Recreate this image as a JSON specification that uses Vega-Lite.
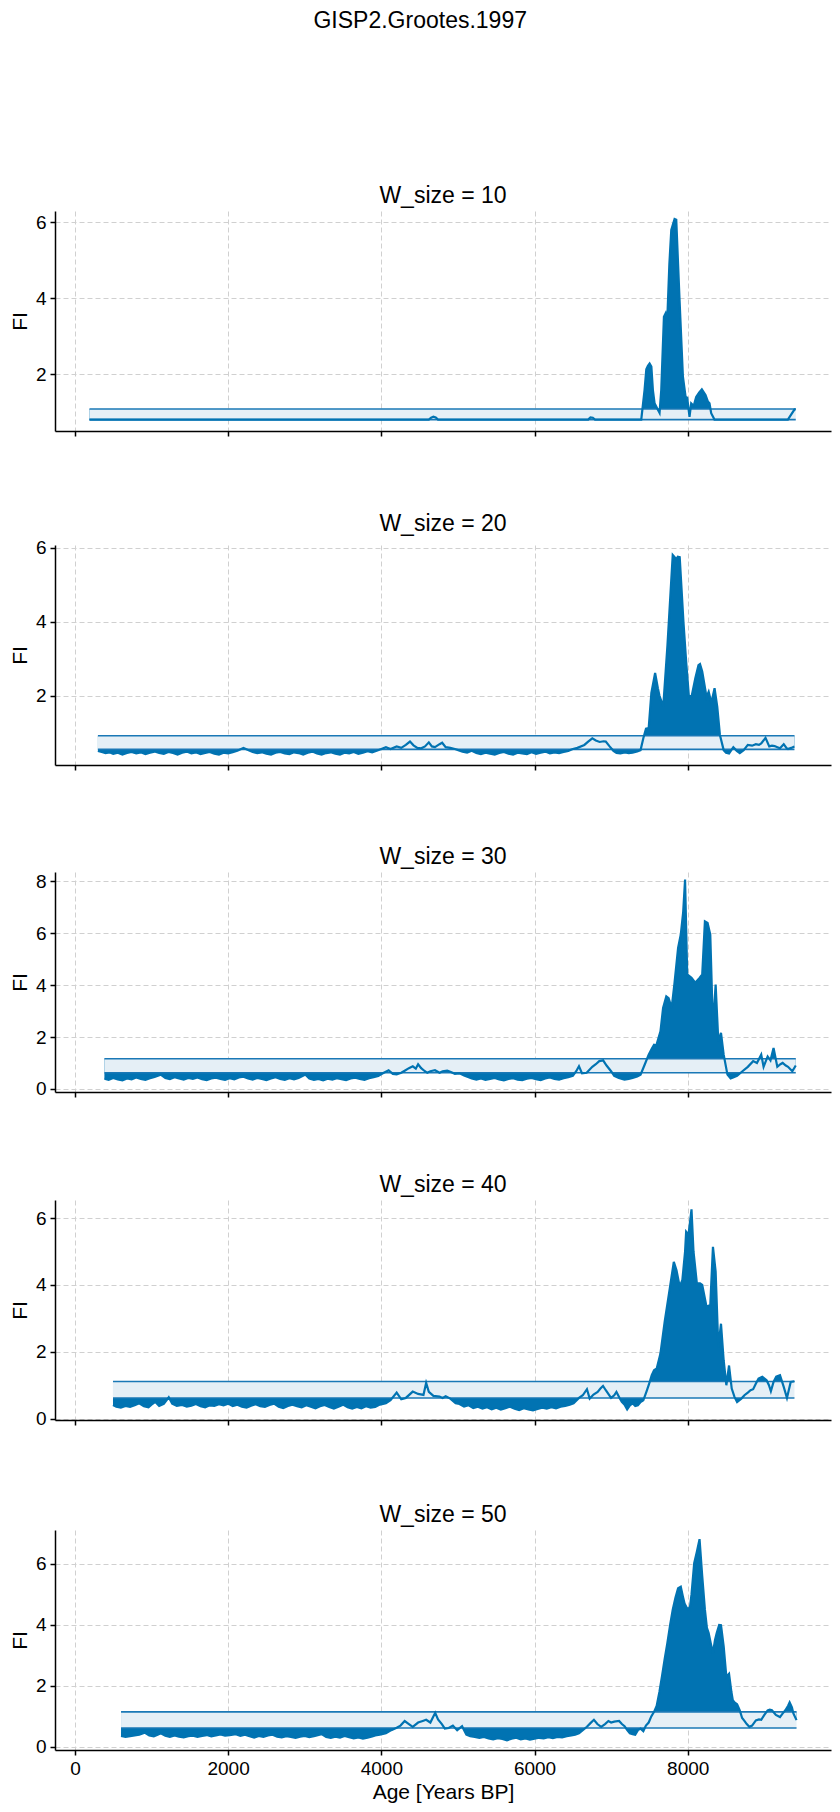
{
  "$schema": "https://vega.github.io/schema/vega-lite/v6.json",
  "padding": {"left": 9, "top": 10, "right": 5, "bottom": 5},
  "background": "white",
  "title": {"text": "GISP2.Grootes.1997", "fontSize": 23, "font": "Liberation Sans", "fontWeight": "normal", "color": "black", "anchor": "middle", "offset": 152},
  "config": {
    "view": {"stroke": null},
    "font": "Liberation Sans",
    "axis": {"domainColor": "black", "domainWidth": 1.5, "tickColor": "black", "tickWidth": 1.5, "tickSize": 5, "labelFont": "Liberation Sans", "labelFontSize": 19, "labelColor": "black", "titleFont": "Liberation Sans", "titleFontSize": 21, "titleFontWeight": "normal", "titleColor": "black", "gridColor": "#d0d0d0", "gridDash": [5, 3], "gridWidth": 1, "labelPadding": 4},
    "axisX": {"format": "d", "titlePadding": 3},
    "axisY": {"titlePadding": 5},
    "title": {"fontSize": 23, "font": "Liberation Sans", "fontWeight": "normal", "color": "black", "anchor": "middle", "offset": 3}
  },
  "resolve": {"scale": {"x": "independent", "y": "independent"}},
  "spacing": 75,
  "datasets": {
    "w10": [
      {"age": 190, "fi": 0.80}, {"age": 1000, "fi": 0.80}, {"age": 2000, "fi": 0.80}, {"age": 3000, "fi": 0.80}, {"age": 4000, "fi": 0.80}, {"age": 4620, "fi": 0.80}, {"age": 4650, "fi": 0.85}, {"age": 4680, "fi": 0.88}, {"age": 4710, "fi": 0.86}, {"age": 4740, "fi": 0.80}, {"age": 5500, "fi": 0.80}, {"age": 6700, "fi": 0.80}, {"age": 6730, "fi": 0.86}, {"age": 6760, "fi": 0.85}, {"age": 6790, "fi": 0.80}, {"age": 7393, "fi": 0.80}, {"age": 7436, "fi": 1.58}, {"age": 7459, "fi": 2.13}, {"age": 7480, "fi": 2.22}, {"age": 7502, "fi": 2.28}, {"age": 7525, "fi": 2.2}, {"age": 7545, "fi": 1.58}, {"age": 7567, "fi": 1.23}, {"age": 7600, "fi": 1.10}, {"age": 7632, "fi": 0.98}, {"age": 7654, "fi": 1.58}, {"age": 7689, "fi": 3.51}, {"age": 7711, "fi": 3.6}, {"age": 7732, "fi": 3.4}, {"age": 7760, "fi": 4.9}, {"age": 7785, "fi": 5.8}, {"age": 7828, "fi": 6.09}, {"age": 7850, "fi": 6.07}, {"age": 7893, "fi": 3.95}, {"age": 7937, "fi": 1.93}, {"age": 7972, "fi": 1.40}, {"age": 7993, "fi": 1.38}, {"age": 8023, "fi": 0.87}, {"age": 8045, "fi": 1.23}, {"age": 8060, "fi": 1.20}, {"age": 8080, "fi": 1.18}, {"age": 8110, "fi": 1.40}, {"age": 8150, "fi": 1.52}, {"age": 8184, "fi": 1.60}, {"age": 8232, "fi": 1.45}, {"age": 8262, "fi": 1.28}, {"age": 8284, "fi": 1.23}, {"age": 8306, "fi": 0.97}, {"age": 8349, "fi": 0.80}, {"age": 9000, "fi": 0.80}, {"age": 9307, "fi": 0.80}, {"age": 9394, "fi": 1.07}, {"age": 9410, "fi": 1.07}
    ],
    "w20": [
      {"age": 300, "fi": 0.50}, {"age": 350, "fi": 0.47}, {"age": 400, "fi": 0.44}, {"age": 450, "fi": 0.46}, {"age": 500, "fi": 0.42}, {"age": 560, "fi": 0.45}, {"age": 620, "fi": 0.40}, {"age": 680, "fi": 0.44}, {"age": 740, "fi": 0.47}, {"age": 800, "fi": 0.43}, {"age": 860, "fi": 0.46}, {"age": 920, "fi": 0.41}, {"age": 980, "fi": 0.45}, {"age": 1040, "fi": 0.48}, {"age": 1100, "fi": 0.44}, {"age": 1160, "fi": 0.42}, {"age": 1220, "fi": 0.47}, {"age": 1280, "fi": 0.44}, {"age": 1340, "fi": 0.40}, {"age": 1400, "fi": 0.45}, {"age": 1460, "fi": 0.48}, {"age": 1520, "fi": 0.43}, {"age": 1580, "fi": 0.46}, {"age": 1640, "fi": 0.41}, {"age": 1700, "fi": 0.44}, {"age": 1760, "fi": 0.47}, {"age": 1820, "fi": 0.42}, {"age": 1880, "fi": 0.40}, {"age": 1940, "fi": 0.45}, {"age": 2000, "fi": 0.43}, {"age": 2060, "fi": 0.46}, {"age": 2120, "fi": 0.50}, {"age": 2200, "fi": 0.58}, {"age": 2260, "fi": 0.52}, {"age": 2320, "fi": 0.47}, {"age": 2380, "fi": 0.44}, {"age": 2440, "fi": 0.46}, {"age": 2500, "fi": 0.42}, {"age": 2560, "fi": 0.40}, {"age": 2620, "fi": 0.45}, {"age": 2680, "fi": 0.47}, {"age": 2740, "fi": 0.43}, {"age": 2800, "fi": 0.41}, {"age": 2860, "fi": 0.46}, {"age": 2920, "fi": 0.44}, {"age": 2980, "fi": 0.40}, {"age": 3040, "fi": 0.45}, {"age": 3100, "fi": 0.48}, {"age": 3160, "fi": 0.43}, {"age": 3220, "fi": 0.40}, {"age": 3280, "fi": 0.44}, {"age": 3340, "fi": 0.46}, {"age": 3400, "fi": 0.42}, {"age": 3460, "fi": 0.40}, {"age": 3520, "fi": 0.45}, {"age": 3580, "fi": 0.43}, {"age": 3640, "fi": 0.47}, {"age": 3700, "fi": 0.42}, {"age": 3760, "fi": 0.45}, {"age": 3820, "fi": 0.49}, {"age": 3880, "fi": 0.46}, {"age": 3940, "fi": 0.50}, {"age": 4000, "fi": 0.55}, {"age": 4060, "fi": 0.60}, {"age": 4120, "fi": 0.55}, {"age": 4200, "fi": 0.62}, {"age": 4260, "fi": 0.58}, {"age": 4320, "fi": 0.66}, {"age": 4374, "fi": 0.75}, {"age": 4420, "fi": 0.65}, {"age": 4470, "fi": 0.58}, {"age": 4520, "fi": 0.57}, {"age": 4570, "fi": 0.62}, {"age": 4620, "fi": 0.73}, {"age": 4660, "fi": 0.62}, {"age": 4700, "fi": 0.60}, {"age": 4760, "fi": 0.68}, {"age": 4794, "fi": 0.72}, {"age": 4840, "fi": 0.60}, {"age": 4900, "fi": 0.58}, {"age": 4960, "fi": 0.55}, {"age": 5004, "fi": 0.52}, {"age": 5060, "fi": 0.48}, {"age": 5120, "fi": 0.45}, {"age": 5180, "fi": 0.50}, {"age": 5240, "fi": 0.44}, {"age": 5300, "fi": 0.41}, {"age": 5360, "fi": 0.45}, {"age": 5420, "fi": 0.42}, {"age": 5480, "fi": 0.40}, {"age": 5540, "fi": 0.44}, {"age": 5600, "fi": 0.47}, {"age": 5660, "fi": 0.42}, {"age": 5720, "fi": 0.40}, {"age": 5780, "fi": 0.45}, {"age": 5840, "fi": 0.43}, {"age": 5900, "fi": 0.41}, {"age": 5960, "fi": 0.46}, {"age": 6020, "fi": 0.42}, {"age": 6080, "fi": 0.45}, {"age": 6140, "fi": 0.48}, {"age": 6200, "fi": 0.43}, {"age": 6260, "fi": 0.46}, {"age": 6320, "fi": 0.44}, {"age": 6380, "fi": 0.47}, {"age": 6440, "fi": 0.50}, {"age": 6500, "fi": 0.55}, {"age": 6560, "fi": 0.58}, {"age": 6650, "fi": 0.66}, {"age": 6700, "fi": 0.75}, {"age": 6754, "fi": 0.84}, {"age": 6800, "fi": 0.78}, {"age": 6850, "fi": 0.74}, {"age": 6900, "fi": 0.76}, {"age": 6930, "fi": 0.75}, {"age": 6980, "fi": 0.62}, {"age": 7030, "fi": 0.50}, {"age": 7070, "fi": 0.44}, {"age": 7120, "fi": 0.43}, {"age": 7180, "fi": 0.46}, {"age": 7230, "fi": 0.44}, {"age": 7280, "fi": 0.45}, {"age": 7340, "fi": 0.48}, {"age": 7384, "fi": 0.52}, {"age": 7420, "fi": 0.84}, {"age": 7455, "fi": 1.10}, {"age": 7490, "fi": 1.12}, {"age": 7525, "fi": 2.07}, {"age": 7574, "fi": 2.61}, {"age": 7610, "fi": 2.2}, {"age": 7630, "fi": 2.0}, {"age": 7680, "fi": 1.70}, {"age": 7735, "fi": 3.36}, {"age": 7770, "fi": 4.6}, {"age": 7804, "fi": 5.81}, {"age": 7830, "fi": 5.75}, {"age": 7853, "fi": 5.70}, {"age": 7870, "fi": 5.76}, {"age": 7895, "fi": 5.75}, {"age": 7944, "fi": 3.99}, {"age": 7980, "fi": 2.9}, {"age": 8014, "fi": 2.0}, {"age": 8049, "fi": 1.96}, {"age": 8098, "fi": 2.46}, {"age": 8140, "fi": 2.82}, {"age": 8160, "fi": 2.85}, {"age": 8189, "fi": 2.65}, {"age": 8245, "fi": 1.96}, {"age": 8273, "fi": 2.1}, {"age": 8308, "fi": 1.8}, {"age": 8350, "fi": 2.2}, {"age": 8385, "fi": 1.7}, {"age": 8420, "fi": 0.93}, {"age": 8469, "fi": 0.52}, {"age": 8500, "fi": 0.45}, {"age": 8539, "fi": 0.43}, {"age": 8595, "fi": 0.60}, {"age": 8640, "fi": 0.50}, {"age": 8679, "fi": 0.44}, {"age": 8730, "fi": 0.52}, {"age": 8784, "fi": 0.66}, {"age": 8840, "fi": 0.64}, {"age": 8889, "fi": 0.68}, {"age": 8930, "fi": 0.66}, {"age": 8959, "fi": 0.70}, {"age": 9015, "fi": 0.85}, {"age": 9064, "fi": 0.62}, {"age": 9100, "fi": 0.64}, {"age": 9134, "fi": 0.63}, {"age": 9170, "fi": 0.60}, {"age": 9204, "fi": 0.57}, {"age": 9253, "fi": 0.68}, {"age": 9290, "fi": 0.57}, {"age": 9309, "fi": 0.55}, {"age": 9350, "fi": 0.58}, {"age": 9393, "fi": 0.62}
    ],
    "w30": [
      {"age": 385, "fi": 0.39}, {"age": 440, "fi": 0.35}, {"age": 500, "fi": 0.42}, {"age": 560, "fi": 0.36}, {"age": 620, "fi": 0.33}, {"age": 680, "fi": 0.40}, {"age": 740, "fi": 0.37}, {"age": 800, "fi": 0.44}, {"age": 860, "fi": 0.38}, {"age": 920, "fi": 0.35}, {"age": 980, "fi": 0.41}, {"age": 1040, "fi": 0.46}, {"age": 1120, "fi": 0.55}, {"age": 1180, "fi": 0.42}, {"age": 1240, "fi": 0.38}, {"age": 1300, "fi": 0.45}, {"age": 1360, "fi": 0.40}, {"age": 1420, "fi": 0.36}, {"age": 1480, "fi": 0.42}, {"age": 1540, "fi": 0.39}, {"age": 1600, "fi": 0.44}, {"age": 1660, "fi": 0.37}, {"age": 1720, "fi": 0.34}, {"age": 1780, "fi": 0.40}, {"age": 1840, "fi": 0.43}, {"age": 1900, "fi": 0.38}, {"age": 1960, "fi": 0.35}, {"age": 2020, "fi": 0.41}, {"age": 2080, "fi": 0.37}, {"age": 2140, "fi": 0.44}, {"age": 2200, "fi": 0.47}, {"age": 2260, "fi": 0.40}, {"age": 2320, "fi": 0.36}, {"age": 2380, "fi": 0.42}, {"age": 2440, "fi": 0.38}, {"age": 2500, "fi": 0.34}, {"age": 2560, "fi": 0.40}, {"age": 2620, "fi": 0.45}, {"age": 2680, "fi": 0.38}, {"age": 2740, "fi": 0.35}, {"age": 2800, "fi": 0.41}, {"age": 2860, "fi": 0.37}, {"age": 2920, "fi": 0.42}, {"age": 3010, "fi": 0.55}, {"age": 3060, "fi": 0.40}, {"age": 3120, "fi": 0.35}, {"age": 3180, "fi": 0.38}, {"age": 3240, "fi": 0.33}, {"age": 3300, "fi": 0.39}, {"age": 3360, "fi": 0.36}, {"age": 3420, "fi": 0.41}, {"age": 3480, "fi": 0.37}, {"age": 3540, "fi": 0.34}, {"age": 3600, "fi": 0.40}, {"age": 3660, "fi": 0.43}, {"age": 3720, "fi": 0.38}, {"age": 3780, "fi": 0.35}, {"age": 3840, "fi": 0.41}, {"age": 3900, "fi": 0.45}, {"age": 3960, "fi": 0.50}, {"age": 4020, "fi": 0.60}, {"age": 4095, "fi": 0.72}, {"age": 4150, "fi": 0.58}, {"age": 4200, "fi": 0.56}, {"age": 4260, "fi": 0.62}, {"age": 4305, "fi": 0.70}, {"age": 4360, "fi": 0.80}, {"age": 4410, "fi": 0.87}, {"age": 4450, "fi": 0.78}, {"age": 4480, "fi": 0.95}, {"age": 4520, "fi": 0.80}, {"age": 4560, "fi": 0.70}, {"age": 4600, "fi": 0.62}, {"age": 4640, "fi": 0.68}, {"age": 4700, "fi": 0.72}, {"age": 4760, "fi": 0.62}, {"age": 4800, "fi": 0.68}, {"age": 4860, "fi": 0.70}, {"age": 4900, "fi": 0.66}, {"age": 4960, "fi": 0.58}, {"age": 5020, "fi": 0.60}, {"age": 5080, "fi": 0.52}, {"age": 5140, "fi": 0.45}, {"age": 5180, "fi": 0.40}, {"age": 5240, "fi": 0.36}, {"age": 5300, "fi": 0.40}, {"age": 5360, "fi": 0.35}, {"age": 5420, "fi": 0.38}, {"age": 5480, "fi": 0.42}, {"age": 5540, "fi": 0.36}, {"age": 5600, "fi": 0.33}, {"age": 5660, "fi": 0.38}, {"age": 5720, "fi": 0.41}, {"age": 5780, "fi": 0.36}, {"age": 5840, "fi": 0.34}, {"age": 5900, "fi": 0.39}, {"age": 5960, "fi": 0.42}, {"age": 6020, "fi": 0.37}, {"age": 6080, "fi": 0.34}, {"age": 6140, "fi": 0.40}, {"age": 6200, "fi": 0.44}, {"age": 6260, "fi": 0.38}, {"age": 6320, "fi": 0.36}, {"age": 6380, "fi": 0.41}, {"age": 6440, "fi": 0.45}, {"age": 6500, "fi": 0.50}, {"age": 6544, "fi": 0.68}, {"age": 6580, "fi": 0.87}, {"age": 6620, "fi": 0.60}, {"age": 6680, "fi": 0.62}, {"age": 6754, "fi": 0.85}, {"age": 6800, "fi": 0.95}, {"age": 6845, "fi": 1.07}, {"age": 6895, "fi": 1.10}, {"age": 6940, "fi": 0.90}, {"age": 6999, "fi": 0.68}, {"age": 7040, "fi": 0.50}, {"age": 7100, "fi": 0.42}, {"age": 7174, "fi": 0.36}, {"age": 7230, "fi": 0.38}, {"age": 7280, "fi": 0.42}, {"age": 7340, "fi": 0.48}, {"age": 7384, "fi": 0.55}, {"age": 7440, "fi": 0.95}, {"age": 7490, "fi": 1.32}, {"age": 7530, "fi": 1.55}, {"age": 7560, "fi": 1.70}, {"age": 7590, "fi": 1.68}, {"age": 7644, "fi": 2.22}, {"age": 7678, "fi": 3.12}, {"age": 7720, "fi": 3.57}, {"age": 7750, "fi": 3.50}, {"age": 7790, "fi": 3.12}, {"age": 7825, "fi": 4.02}, {"age": 7874, "fi": 5.43}, {"age": 7909, "fi": 5.95}, {"age": 7940, "fi": 6.8}, {"age": 7965, "fi": 8.07}, {"age": 7993, "fi": 4.41}, {"age": 8049, "fi": 4.28}, {"age": 8098, "fi": 4.09}, {"age": 8154, "fi": 4.28}, {"age": 8189, "fi": 4.41}, {"age": 8224, "fi": 6.46}, {"age": 8259, "fi": 6.4}, {"age": 8294, "fi": 5.95}, {"age": 8329, "fi": 2.35}, {"age": 8364, "fi": 4.02}, {"age": 8399, "fi": 1.84}, {"age": 8434, "fi": 2.16}, {"age": 8469, "fi": 1.32}, {"age": 8518, "fi": 0.55}, {"age": 8560, "fi": 0.40}, {"age": 8600, "fi": 0.45}, {"age": 8644, "fi": 0.50}, {"age": 8714, "fi": 0.68}, {"age": 8784, "fi": 0.85}, {"age": 8854, "fi": 1.07}, {"age": 8903, "fi": 1.0}, {"age": 8959, "fi": 1.32}, {"age": 8990, "fi": 0.85}, {"age": 9043, "fi": 1.25}, {"age": 9080, "fi": 1.10}, {"age": 9120, "fi": 1.58}, {"age": 9169, "fi": 0.85}, {"age": 9210, "fi": 0.95}, {"age": 9239, "fi": 1.0}, {"age": 9280, "fi": 0.90}, {"age": 9309, "fi": 0.85}, {"age": 9365, "fi": 0.68}, {"age": 9410, "fi": 0.90}
    ],
    "w40": [
      {"age": 497, "fi": 0.41}, {"age": 540, "fi": 0.36}, {"age": 600, "fi": 0.33}, {"age": 660, "fi": 0.38}, {"age": 720, "fi": 0.35}, {"age": 780, "fi": 0.40}, {"age": 840, "fi": 0.46}, {"age": 900, "fi": 0.37}, {"age": 960, "fi": 0.34}, {"age": 1000, "fi": 0.42}, {"age": 1050, "fi": 0.50}, {"age": 1100, "fi": 0.38}, {"age": 1160, "fi": 0.44}, {"age": 1225, "fi": 0.64}, {"age": 1270, "fi": 0.45}, {"age": 1330, "fi": 0.38}, {"age": 1400, "fi": 0.41}, {"age": 1460, "fi": 0.36}, {"age": 1520, "fi": 0.39}, {"age": 1580, "fi": 0.44}, {"age": 1640, "fi": 0.37}, {"age": 1700, "fi": 0.34}, {"age": 1760, "fi": 0.40}, {"age": 1820, "fi": 0.38}, {"age": 1880, "fi": 0.43}, {"age": 1940, "fi": 0.40}, {"age": 2000, "fi": 0.45}, {"age": 2060, "fi": 0.38}, {"age": 2120, "fi": 0.42}, {"age": 2180, "fi": 0.36}, {"age": 2240, "fi": 0.33}, {"age": 2300, "fi": 0.39}, {"age": 2360, "fi": 0.43}, {"age": 2420, "fi": 0.37}, {"age": 2480, "fi": 0.35}, {"age": 2540, "fi": 0.41}, {"age": 2600, "fi": 0.45}, {"age": 2660, "fi": 0.36}, {"age": 2720, "fi": 0.32}, {"age": 2780, "fi": 0.38}, {"age": 2840, "fi": 0.42}, {"age": 2900, "fi": 0.37}, {"age": 2960, "fi": 0.34}, {"age": 3020, "fi": 0.40}, {"age": 3080, "fi": 0.36}, {"age": 3140, "fi": 0.31}, {"age": 3200, "fi": 0.37}, {"age": 3260, "fi": 0.41}, {"age": 3320, "fi": 0.35}, {"age": 3380, "fi": 0.30}, {"age": 3440, "fi": 0.36}, {"age": 3500, "fi": 0.42}, {"age": 3560, "fi": 0.34}, {"age": 3620, "fi": 0.30}, {"age": 3680, "fi": 0.35}, {"age": 3740, "fi": 0.31}, {"age": 3800, "fi": 0.37}, {"age": 3860, "fi": 0.33}, {"age": 3920, "fi": 0.35}, {"age": 3980, "fi": 0.42}, {"age": 4060, "fi": 0.46}, {"age": 4120, "fi": 0.55}, {"age": 4200, "fi": 0.78}, {"age": 4260, "fi": 0.58}, {"age": 4320, "fi": 0.62}, {"age": 4410, "fi": 0.81}, {"age": 4480, "fi": 0.74}, {"age": 4550, "fi": 0.71}, {"age": 4585, "fi": 1.07}, {"age": 4620, "fi": 0.80}, {"age": 4680, "fi": 0.68}, {"age": 4760, "fi": 0.66}, {"age": 4800, "fi": 0.62}, {"age": 4840, "fi": 0.67}, {"age": 4900, "fi": 0.60}, {"age": 4970, "fi": 0.46}, {"age": 5020, "fi": 0.44}, {"age": 5080, "fi": 0.36}, {"age": 5140, "fi": 0.40}, {"age": 5200, "fi": 0.32}, {"age": 5260, "fi": 0.36}, {"age": 5320, "fi": 0.30}, {"age": 5380, "fi": 0.34}, {"age": 5440, "fi": 0.28}, {"age": 5500, "fi": 0.33}, {"age": 5560, "fi": 0.27}, {"age": 5620, "fi": 0.31}, {"age": 5680, "fi": 0.36}, {"age": 5740, "fi": 0.30}, {"age": 5800, "fi": 0.26}, {"age": 5860, "fi": 0.31}, {"age": 5920, "fi": 0.28}, {"age": 5980, "fi": 0.25}, {"age": 6040, "fi": 0.29}, {"age": 6100, "fi": 0.33}, {"age": 6160, "fi": 0.30}, {"age": 6220, "fi": 0.34}, {"age": 6280, "fi": 0.31}, {"age": 6340, "fi": 0.36}, {"age": 6400, "fi": 0.38}, {"age": 6460, "fi": 0.42}, {"age": 6510, "fi": 0.46}, {"age": 6580, "fi": 0.62}, {"age": 6630, "fi": 0.70}, {"age": 6684, "fi": 0.88}, {"age": 6720, "fi": 0.60}, {"age": 6770, "fi": 0.72}, {"age": 6824, "fi": 0.80}, {"age": 6860, "fi": 0.90}, {"age": 6894, "fi": 0.98}, {"age": 6930, "fi": 0.85}, {"age": 6999, "fi": 0.62}, {"age": 7040, "fi": 0.70}, {"age": 7069, "fi": 0.80}, {"age": 7110, "fi": 0.62}, {"age": 7139, "fi": 0.50}, {"age": 7175, "fi": 0.42}, {"age": 7209, "fi": 0.28}, {"age": 7245, "fi": 0.40}, {"age": 7280, "fi": 0.46}, {"age": 7315, "fi": 0.38}, {"age": 7349, "fi": 0.40}, {"age": 7384, "fi": 0.50}, {"age": 7420, "fi": 0.55}, {"age": 7460, "fi": 0.80}, {"age": 7490, "fi": 1.0}, {"age": 7530, "fi": 1.30}, {"age": 7560, "fi": 1.45}, {"age": 7595, "fi": 1.50}, {"age": 7643, "fi": 1.94}, {"age": 7699, "fi": 2.9}, {"age": 7769, "fi": 3.95}, {"age": 7818, "fi": 4.69}, {"age": 7853, "fi": 4.44}, {"age": 7895, "fi": 3.95}, {"age": 7930, "fi": 4.15}, {"age": 7965, "fi": 5.0}, {"age": 7979, "fi": 5.59}, {"age": 8010, "fi": 5.5}, {"age": 8049, "fi": 6.26}, {"age": 8075, "fi": 5.0}, {"age": 8119, "fi": 4.05}, {"age": 8160, "fi": 4.05}, {"age": 8189, "fi": 4.0}, {"age": 8245, "fi": 3.35}, {"age": 8294, "fi": 3.40}, {"age": 8329, "fi": 5.14}, {"age": 8364, "fi": 4.4}, {"age": 8399, "fi": 2.14}, {"age": 8434, "fi": 2.84}, {"age": 8469, "fi": 1.74}, {"age": 8504, "fi": 1.0}, {"age": 8539, "fi": 1.59}, {"age": 8574, "fi": 0.90}, {"age": 8610, "fi": 0.65}, {"age": 8644, "fi": 0.50}, {"age": 8700, "fi": 0.60}, {"age": 8740, "fi": 0.70}, {"age": 8784, "fi": 0.78}, {"age": 8820, "fi": 0.85}, {"age": 8854, "fi": 0.88}, {"age": 8890, "fi": 1.05}, {"age": 8924, "fi": 1.20}, {"age": 8973, "fi": 1.25}, {"age": 9029, "fi": 1.15}, {"age": 9060, "fi": 1.0}, {"age": 9085, "fi": 0.82}, {"age": 9120, "fi": 1.10}, {"age": 9155, "fi": 1.26}, {"age": 9204, "fi": 1.30}, {"age": 9253, "fi": 0.95}, {"age": 9295, "fi": 0.62}, {"age": 9344, "fi": 1.10}, {"age": 9393, "fi": 1.12}
    ],
    "w50": [
      {"age": 602, "fi": 0.36}, {"age": 660, "fi": 0.33}, {"age": 720, "fi": 0.35}, {"age": 780, "fi": 0.38}, {"age": 840, "fi": 0.40}, {"age": 910, "fi": 0.47}, {"age": 970, "fi": 0.38}, {"age": 1030, "fi": 0.35}, {"age": 1080, "fi": 0.40}, {"age": 1120, "fi": 0.45}, {"age": 1180, "fi": 0.37}, {"age": 1240, "fi": 0.33}, {"age": 1300, "fi": 0.38}, {"age": 1360, "fi": 0.34}, {"age": 1420, "fi": 0.31}, {"age": 1480, "fi": 0.35}, {"age": 1540, "fi": 0.37}, {"age": 1600, "fi": 0.33}, {"age": 1660, "fi": 0.36}, {"age": 1720, "fi": 0.39}, {"age": 1780, "fi": 0.35}, {"age": 1840, "fi": 0.38}, {"age": 1900, "fi": 0.41}, {"age": 1960, "fi": 0.37}, {"age": 2020, "fi": 0.39}, {"age": 2100, "fi": 0.42}, {"age": 2160, "fi": 0.36}, {"age": 2220, "fi": 0.40}, {"age": 2280, "fi": 0.35}, {"age": 2340, "fi": 0.31}, {"age": 2400, "fi": 0.36}, {"age": 2460, "fi": 0.33}, {"age": 2520, "fi": 0.38}, {"age": 2580, "fi": 0.40}, {"age": 2640, "fi": 0.34}, {"age": 2700, "fi": 0.31}, {"age": 2760, "fi": 0.35}, {"age": 2820, "fi": 0.33}, {"age": 2880, "fi": 0.30}, {"age": 2940, "fi": 0.34}, {"age": 3000, "fi": 0.36}, {"age": 3060, "fi": 0.32}, {"age": 3120, "fi": 0.35}, {"age": 3220, "fi": 0.42}, {"age": 3280, "fi": 0.33}, {"age": 3340, "fi": 0.30}, {"age": 3400, "fi": 0.34}, {"age": 3460, "fi": 0.31}, {"age": 3520, "fi": 0.36}, {"age": 3580, "fi": 0.32}, {"age": 3640, "fi": 0.28}, {"age": 3700, "fi": 0.31}, {"age": 3760, "fi": 0.27}, {"age": 3820, "fi": 0.30}, {"age": 3880, "fi": 0.34}, {"age": 3920, "fi": 0.38}, {"age": 3980, "fi": 0.40}, {"age": 4060, "fi": 0.45}, {"age": 4130, "fi": 0.55}, {"age": 4200, "fi": 0.63}, {"age": 4250, "fi": 0.70}, {"age": 4305, "fi": 0.85}, {"age": 4360, "fi": 0.75}, {"age": 4410, "fi": 0.66}, {"age": 4480, "fi": 0.80}, {"age": 4540, "fi": 0.85}, {"age": 4585, "fi": 0.89}, {"age": 4640, "fi": 0.80}, {"age": 4703, "fi": 1.12}, {"age": 4740, "fi": 0.90}, {"age": 4790, "fi": 0.75}, {"age": 4829, "fi": 0.60}, {"age": 4880, "fi": 0.62}, {"age": 4934, "fi": 0.70}, {"age": 4990, "fi": 0.55}, {"age": 5054, "fi": 0.68}, {"age": 5110, "fi": 0.40}, {"age": 5160, "fi": 0.35}, {"age": 5220, "fi": 0.33}, {"age": 5280, "fi": 0.30}, {"age": 5340, "fi": 0.33}, {"age": 5400, "fi": 0.28}, {"age": 5460, "fi": 0.25}, {"age": 5520, "fi": 0.29}, {"age": 5580, "fi": 0.26}, {"age": 5640, "fi": 0.22}, {"age": 5700, "fi": 0.27}, {"age": 5760, "fi": 0.30}, {"age": 5820, "fi": 0.25}, {"age": 5880, "fi": 0.28}, {"age": 5940, "fi": 0.24}, {"age": 6000, "fi": 0.27}, {"age": 6060, "fi": 0.30}, {"age": 6120, "fi": 0.28}, {"age": 6180, "fi": 0.32}, {"age": 6240, "fi": 0.29}, {"age": 6300, "fi": 0.33}, {"age": 6360, "fi": 0.31}, {"age": 6420, "fi": 0.35}, {"age": 6480, "fi": 0.38}, {"age": 6530, "fi": 0.40}, {"age": 6580, "fi": 0.45}, {"age": 6630, "fi": 0.55}, {"age": 6684, "fi": 0.66}, {"age": 6730, "fi": 0.78}, {"age": 6775, "fi": 0.89}, {"age": 6820, "fi": 0.75}, {"age": 6870, "fi": 0.66}, {"age": 6920, "fi": 0.75}, {"age": 6964, "fi": 0.85}, {"age": 7000, "fi": 0.80}, {"age": 7040, "fi": 0.83}, {"age": 7104, "fi": 0.85}, {"age": 7140, "fi": 0.75}, {"age": 7175, "fi": 0.68}, {"age": 7210, "fi": 0.55}, {"age": 7244, "fi": 0.45}, {"age": 7280, "fi": 0.42}, {"age": 7314, "fi": 0.40}, {"age": 7350, "fi": 0.55}, {"age": 7384, "fi": 0.60}, {"age": 7420, "fi": 0.52}, {"age": 7454, "fi": 0.70}, {"age": 7490, "fi": 0.80}, {"age": 7524, "fi": 1.0}, {"age": 7560, "fi": 1.15}, {"age": 7594, "fi": 1.34}, {"age": 7630, "fi": 1.8}, {"age": 7664, "fi": 2.32}, {"age": 7700, "fi": 2.9}, {"age": 7734, "fi": 3.41}, {"age": 7770, "fi": 4.0}, {"age": 7804, "fi": 4.5}, {"age": 7840, "fi": 4.9}, {"age": 7874, "fi": 5.2}, {"age": 7909, "fi": 5.25}, {"age": 7935, "fi": 4.95}, {"age": 7958, "fi": 4.7}, {"age": 8000, "fi": 4.5}, {"age": 8030, "fi": 4.6}, {"age": 8049, "fi": 5.0}, {"age": 8084, "fi": 6.02}, {"age": 8119, "fi": 6.4}, {"age": 8154, "fi": 6.81}, {"age": 8189, "fi": 5.6}, {"age": 8224, "fi": 4.5}, {"age": 8250, "fi": 3.9}, {"age": 8273, "fi": 3.73}, {"age": 8300, "fi": 3.4}, {"age": 8329, "fi": 3.08}, {"age": 8355, "fi": 3.5}, {"age": 8378, "fi": 3.73}, {"age": 8410, "fi": 4.0}, {"age": 8434, "fi": 3.99}, {"age": 8469, "fi": 3.3}, {"age": 8504, "fi": 2.3}, {"age": 8539, "fi": 2.4}, {"age": 8570, "fi": 1.8}, {"age": 8588, "fi": 1.53}, {"age": 8615, "fi": 1.45}, {"age": 8644, "fi": 1.40}, {"age": 8679, "fi": 1.2}, {"age": 8710, "fi": 0.95}, {"age": 8735, "fi": 0.87}, {"age": 8770, "fi": 0.75}, {"age": 8805, "fi": 0.66}, {"age": 8840, "fi": 0.70}, {"age": 8889, "fi": 0.87}, {"age": 8930, "fi": 0.90}, {"age": 8959, "fi": 0.89}, {"age": 9000, "fi": 1.05}, {"age": 9043, "fi": 1.20}, {"age": 9070, "fi": 1.22}, {"age": 9099, "fi": 1.20}, {"age": 9150, "fi": 1.05}, {"age": 9204, "fi": 0.98}, {"age": 9240, "fi": 1.10}, {"age": 9274, "fi": 1.2}, {"age": 9310, "fi": 1.35}, {"age": 9330, "fi": 1.46}, {"age": 9360, "fi": 1.3}, {"age": 9379, "fi": 1.1}, {"age": 9420, "fi": 0.88}
    ]
  },
  "vconcat": [
    {
      "title": "W_size = 10", "width": 776, "height": 220,
      "data": {"name": "w10"},
      "encoding": {
        "x": {"field": "age", "type": "quantitative", "scale": {"domain": [-260, 9870], "nice": false, "zero": false}, "axis": {"values": [0, 2000, 4000, 6000, 8000], "labels": false, "title": null, "grid": true}},
        "y": {"field": "fi", "type": "quantitative", "scale": {"domain": [0.5, 6.3], "nice": false, "zero": false}, "axis": {"values": [2, 4, 6], "title": "FI", "grid": true}}
      },
      "layer": [
        {"mark": {"type": "area", "color": "#0173B2", "opacity": 1}, "encoding": {"y2": {"datum": 1.08}}},
        {"mark": {"type": "area", "color": "#E5EFF6", "opacity": 1}, "encoding": {"y": {"datum": 0.80, "type": "quantitative"}, "y2": {"datum": 1.08}}},
        {"mark": {"type": "line", "color": "#1a78b6", "strokeWidth": 1.6}, "encoding": {"y": {"datum": 0.80, "type": "quantitative"}}},
        {"mark": {"type": "line", "color": "#1a78b6", "strokeWidth": 1.6}, "encoding": {"y": {"datum": 1.08, "type": "quantitative"}}},
        {"mark": {"type": "line", "color": "#0173B2", "strokeWidth": 2.2}}
      ]
    },
    {
      "title": "W_size = 20", "width": 776, "height": 220,
      "data": {"name": "w20"},
      "encoding": {
        "x": {"field": "age", "type": "quantitative", "scale": {"domain": [-260, 9870], "nice": false, "zero": false}, "axis": {"values": [0, 2000, 4000, 6000, 8000], "labels": false, "title": null, "grid": true}},
        "y": {"field": "fi", "type": "quantitative", "scale": {"domain": [0.116, 6.08], "nice": false, "zero": false}, "axis": {"values": [2, 4, 6], "title": "FI", "grid": true}}
      },
      "layer": [
        {"mark": {"type": "area", "color": "#0173B2", "opacity": 1}, "encoding": {"y2": {"datum": 0.91}}},
        {"mark": {"type": "area", "color": "#E5EFF6", "opacity": 1}, "encoding": {"y": {"datum": 0.54, "type": "quantitative"}, "y2": {"datum": 0.91}}},
        {"mark": {"type": "line", "color": "#1a78b6", "strokeWidth": 1.6}, "encoding": {"y": {"datum": 0.54, "type": "quantitative"}}},
        {"mark": {"type": "line", "color": "#1a78b6", "strokeWidth": 1.6}, "encoding": {"y": {"datum": 0.91, "type": "quantitative"}}},
        {"mark": {"type": "line", "color": "#0173B2", "strokeWidth": 2.2}}
      ]
    },
    {
      "title": "W_size = 30", "width": 776, "height": 220,
      "data": {"name": "w30"},
      "encoding": {
        "x": {"field": "age", "type": "quantitative", "scale": {"domain": [-260, 9870], "nice": false, "zero": false}, "axis": {"values": [0, 2000, 4000, 6000, 8000], "labels": false, "title": null, "grid": true}},
        "y": {"field": "fi", "type": "quantitative", "scale": {"domain": [-0.12, 8.36], "nice": false, "zero": false}, "axis": {"values": [0, 2, 4, 6, 8], "title": "FI", "grid": true}}
      },
      "layer": [
        {"mark": {"type": "area", "color": "#0173B2", "opacity": 1}, "encoding": {"y2": {"datum": 1.16}}},
        {"mark": {"type": "area", "color": "#E5EFF6", "opacity": 1}, "encoding": {"y": {"datum": 0.62, "type": "quantitative"}, "y2": {"datum": 1.16}}},
        {"mark": {"type": "line", "color": "#1a78b6", "strokeWidth": 1.6}, "encoding": {"y": {"datum": 0.62, "type": "quantitative"}}},
        {"mark": {"type": "line", "color": "#1a78b6", "strokeWidth": 1.6}, "encoding": {"y": {"datum": 1.16, "type": "quantitative"}}},
        {"mark": {"type": "line", "color": "#0173B2", "strokeWidth": 2.2}}
      ]
    },
    {
      "title": "W_size = 40", "width": 776, "height": 220,
      "data": {"name": "w40"},
      "encoding": {
        "x": {"field": "age", "type": "quantitative", "scale": {"domain": [-260, 9870], "nice": false, "zero": false}, "axis": {"values": [0, 2000, 4000, 6000, 8000], "labels": false, "title": null, "grid": true}},
        "y": {"field": "fi", "type": "quantitative", "scale": {"domain": [-0.04, 6.54], "nice": false, "zero": false}, "axis": {"values": [0, 2, 4, 6], "title": "FI", "grid": true}}
      },
      "layer": [
        {"mark": {"type": "area", "color": "#0173B2", "opacity": 1}, "encoding": {"y2": {"datum": 1.11}}},
        {"mark": {"type": "area", "color": "#E5EFF6", "opacity": 1}, "encoding": {"y": {"datum": 0.62, "type": "quantitative"}, "y2": {"datum": 1.11}}},
        {"mark": {"type": "line", "color": "#1a78b6", "strokeWidth": 1.6}, "encoding": {"y": {"datum": 0.62, "type": "quantitative"}}},
        {"mark": {"type": "line", "color": "#1a78b6", "strokeWidth": 1.6}, "encoding": {"y": {"datum": 1.11, "type": "quantitative"}}},
        {"mark": {"type": "line", "color": "#0173B2", "strokeWidth": 2.2}}
      ]
    },
    {
      "title": "W_size = 50", "width": 776, "height": 220,
      "data": {"name": "w50"},
      "encoding": {
        "x": {"field": "age", "type": "quantitative", "scale": {"domain": [-260, 9870], "nice": false, "zero": false}, "axis": {"values": [0, 2000, 4000, 6000, 8000], "title": "Age [Years BP]", "grid": true}},
        "y": {"field": "fi", "type": "quantitative", "scale": {"domain": [-0.1, 7.11], "nice": false, "zero": false}, "axis": {"values": [0, 2, 4, 6], "title": "FI", "grid": true}}
      },
      "layer": [
        {"mark": {"type": "area", "color": "#0173B2", "opacity": 1}, "encoding": {"y2": {"datum": 1.15}}},
        {"mark": {"type": "area", "color": "#E5EFF6", "opacity": 1}, "encoding": {"y": {"datum": 0.62, "type": "quantitative"}, "y2": {"datum": 1.15}}},
        {"mark": {"type": "line", "color": "#1a78b6", "strokeWidth": 1.6}, "encoding": {"y": {"datum": 0.62, "type": "quantitative"}}},
        {"mark": {"type": "line", "color": "#1a78b6", "strokeWidth": 1.6}, "encoding": {"y": {"datum": 1.15, "type": "quantitative"}}},
        {"mark": {"type": "line", "color": "#0173B2", "strokeWidth": 2.2}}
      ]
    }
  ]
}
